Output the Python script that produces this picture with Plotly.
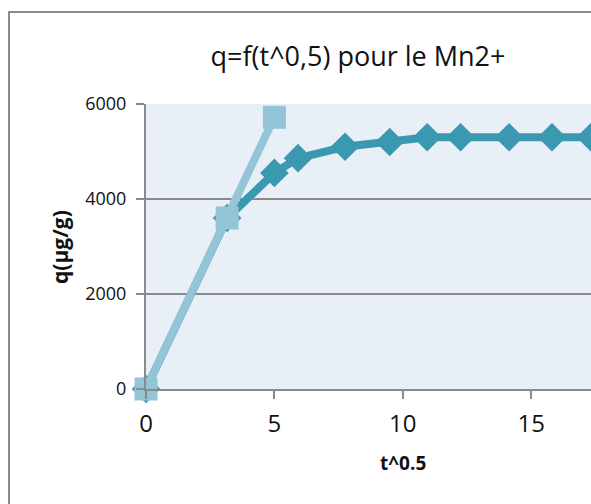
import plotly.graph_objects as go

# Data
t_sqrt_1 = [0, 3.16, 5.0, 5.92, 7.75, 9.49, 10.95, 12.25, 14.14, 15.81, 17.32]
q_1 = [0, 3600, 4550, 4860, 5100, 5200, 5300, 5300, 5300, 5300, 5300]
t_sqrt_2 = [0, 3.16, 5.0]
q_2 = [0, 3600, 5720]

title_text = "q=f(t^0,5) pour le Mn2+"
x_title = "t^0.5"
y_title = "q(µg/g)"
x_ticks = [0, 5, 10, 15]
y_ticks = [0, 2000, 4000, 6000]

W, H = 591, 504
L, R, T, B = 146, 0, 104, 115
pw, ph = W - L - R, H - T - B

FONT = "Open Sans"
GRAY = "#8A8A8A"
DARK = "#3B98B1"
LIGHT = "#93C5D6"

fig = go.Figure()
fig.add_trace(go.Scatter(
    x=t_sqrt_1, y=q_1, mode="lines+markers",
    line=dict(color=DARK, width=8),
    marker=dict(symbol="diamond", size=22, color=DARK),
    cliponaxis=False, showlegend=False))
fig.add_trace(go.Scatter(
    x=t_sqrt_2, y=q_2, mode="lines+markers",
    line=dict(color=LIGHT, width=8),
    marker=dict(symbol="square", size=23, color=LIGHT),
    cliponaxis=False, showlegend=False))

x_max = 17.33

fig.update_layout(
    width=W, height=H,
    margin=dict(l=L, r=R, t=T, b=B, pad=0),
    paper_bgcolor="white", plot_bgcolor="#E9EFF6",
    font=dict(family=FONT, color="#111111"),
    title=dict(text=title_text, x=358 / W, xanchor="center",
               y=1 - 57 / H, yanchor="middle",
               font=dict(family=FONT, size=27, color="#111111")),
    xaxis=dict(range=[0, x_max], tickvals=x_ticks, showgrid=False,
               zeroline=False, showline=True, linecolor=GRAY, linewidth=2,
               ticks="outside", ticklen=8, tickcolor=GRAY, tickwidth=2,
               ticklabelstandoff=4,
               tickfont=dict(family=FONT, size=24, color="#111111")),
    yaxis=dict(range=[0, 6000], tickvals=y_ticks, showgrid=True,
               gridcolor=GRAY, gridwidth=2, zeroline=False,
               showline=True, linecolor=GRAY, linewidth=2,
               ticks="outside", ticklen=8, tickcolor=GRAY, tickwidth=2,
               ticklabelstandoff=6,
               tickfont=dict(family=FONT, size=18, color="#111111")),
)

# axis titles as annotations
fig.add_annotation(text="<b>" + x_title + "</b>", xref="paper", yref="paper",
                   x=(403 - L) / pw, y=(H - B - 463) / ph,
                   xanchor="center", yanchor="middle", showarrow=False,
                   font=dict(family=FONT, size=19, color="#111111"))
fig.add_annotation(text="<b>" + y_title + "</b>", xref="paper", yref="paper",
                   x=(60 - L) / pw, y=(H - B - 247) / ph, textangle=-90,
                   xanchor="center", yanchor="middle", showarrow=False,
                   font=dict(family=FONT, size=21, color="#111111"))

# chart border
fig.add_shape(type="rect", xref="paper", yref="paper",
              x0=(9 - L) / pw, x1=(W + 20 - L) / pw,
              y0=(H - B - (H + 20)) / ph, y1=(H - B - 12) / ph,
              line=dict(color=GRAY, width=2), layer="below")

fig.write_html("out.html")
